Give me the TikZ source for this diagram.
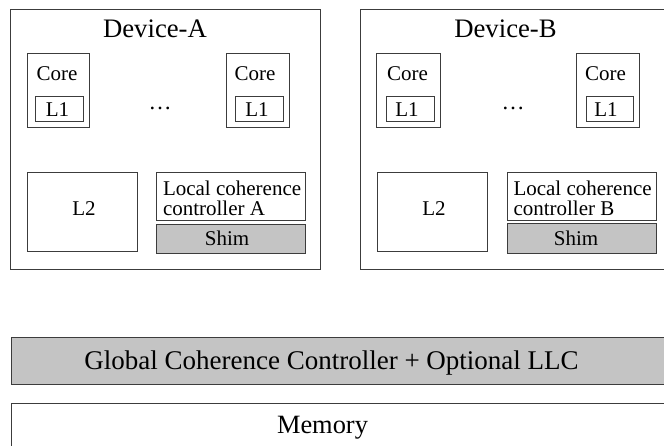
\documentclass[tikz,border=0pt]{standalone}
\usepackage{fontspec}
\setmainfont{Liberation Serif}
\definecolor{shimgray}{RGB}{196,196,196}
\definecolor{edge}{RGB}{60,60,60}
\begin{document}
\begin{tikzpicture}[x=1pt,y=-1pt,
  box/.style={draw=edge, line width=0.9pt, inner sep=0pt, outer sep=0pt, anchor=north west},
  graybox/.style={box, fill=shimgray},
  txt/.style={inner sep=0pt, outer sep=0pt, font=\fontsize{21}{24}\selectfont},
  bigtxt/.style={inner sep=0pt, outer sep=0pt, font=\fontsize{26.7}{30}\selectfont}]
\useasboundingbox (0,0) rectangle (664,445);
\clip (0,0) rectangle (664,445);
\fill[white] (0,0) rectangle (664,445);

% ---------- Device A ----------
\node[box, minimum width=310pt, minimum height=260pt] (devA) at (10,9) {};
\node[bigtxt, anchor=base] (devAlbl) at (155,37) {Device-A};

\node[box, minimum width=62pt, minimum height=74pt] (coreA1) at (27,53) {};
\node[txt, anchor=base] (coreA1t) at (57,80) {Core};
\node[box, minimum width=48pt, minimum height=25pt] (l1A1) at (35,96) {};
\node[txt, anchor=base] (l1A1t) at (57.5,116) {L1};

\node[txt, font=\fontsize{23}{24}\selectfont] (dotsA) at (160,108) {…};

\node[box, minimum width=63pt, minimum height=74pt] (coreA2) at (226,53) {};
\node[txt, anchor=base] (coreA2t) at (255,80) {Core};
\node[box, minimum width=48pt, minimum height=25pt] (l1A2) at (235,96) {};
\node[txt, anchor=base] (l1A2t) at (257,116) {L1};

\node[box, minimum width=110pt, minimum height=79pt] (l2A) at (27,172) {};
\node[txt, anchor=base] (l2At) at (84,215) {L2};

\node[box, minimum width=149pt, minimum height=48pt] (lccA) at (156,172) {};
\node[txt, anchor=base west] (lccAt1) at (163,195) {Local coherence};
\node[txt, anchor=base west] (lccAt2) at (163,215) {controller A};

\node[graybox, minimum width=149pt, minimum height=29pt] (shimA) at (156,224) {};
\node[txt, anchor=base] (shimAt) at (227,245) {Shim};

% ---------- Device B ----------
\node[box, minimum width=310pt, minimum height=260pt] (devB) at (360,9) {};
\node[bigtxt, anchor=base] (devBlbl) at (505.5,37) {Device-B};

\node[box, minimum width=64pt, minimum height=74pt] (coreB1) at (376,53) {};
\node[txt, anchor=base] (coreB1t) at (407.5,80) {Core};
\node[box, minimum width=48pt, minimum height=25pt] (l1B1) at (386,96) {};
\node[txt, anchor=base] (l1B1t) at (407,116) {L1};

\node[txt, font=\fontsize{23}{24}\selectfont] (dotsB) at (513,108) {…};

\node[box, minimum width=63pt, minimum height=74pt] (coreB2) at (576,53) {};
\node[txt, anchor=base] (coreB2t) at (605.5,80) {Core};
\node[box, minimum width=47pt, minimum height=25pt] (l1B2) at (586,96) {};
\node[txt, anchor=base] (l1B2t) at (606,116) {L1};

\node[box, minimum width=110pt, minimum height=79pt] (l2B) at (377,172) {};
\node[txt, anchor=base] (l2Bt) at (434,215) {L2};

\node[box, minimum width=149pt, minimum height=48pt] (lccB) at (507,172) {};
\node[txt, anchor=base west] (lccBt1) at (513.5,195) {Local coherence};
\node[txt, anchor=base west] (lccBt2) at (513.5,215) {controller B};

\node[graybox, minimum width=149pt, minimum height=30pt] (shimB) at (507,223) {};
\node[txt, anchor=base] (shimBt) at (576,245) {Shim};

% ---------- Global + Memory ----------
\node[graybox, minimum width=700pt, minimum height=47pt] (gcc) at (11,337) {};
\node[inner sep=0pt, anchor=base, font=\fontsize{27}{30}\selectfont] (gcct) at (331.5,369) {Global Coherence Controller + Optional LLC};

\node[box, minimum width=700pt, minimum height=100pt] (mem) at (11,403) {};
\node[inner sep=0pt, anchor=base, font=\fontsize{26.4}{30}\selectfont] (memt) at (322.5,433) {Memory};
\end{tikzpicture}
\end{document}
